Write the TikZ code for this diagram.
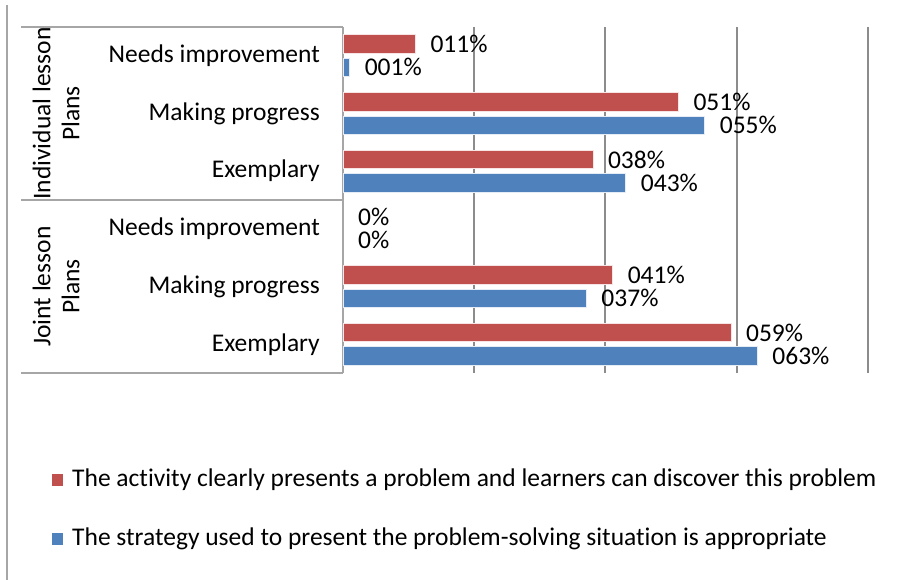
\documentclass[tikz,border=0pt]{standalone}
\usepackage{fontspec}
\setmainfont{Carlito}[Ligatures=NoCommon]
\definecolor{barred}{HTML}{C0504D}
\definecolor{barblue}{HTML}{4F81BD}
\definecolor{gridgray}{HTML}{8C8C8C}
\definecolor{tabgray}{HTML}{A6A6A6}
\begin{document}
\begin{tikzpicture}[x=1pt,y=-1pt,
  txt/.style={font=\fontsize{25.5}{29}\selectfont, inner sep=0pt, text=black},
  redbar/.style={fill=barred, draw=white!85!barred, line width=0.6pt},
  bluebar/.style={fill=barblue, draw=white!85!barblue, line width=0.6pt},
  grid/.style={draw=gridgray, line width=1.2pt},
  tab/.style={draw=tabgray, line width=1.2pt}]
\useasboundingbox (0,0) rectangle (912,580);
% outer left frame line
\draw[tab] (7,5) -- (7,580);
% gridlines
\foreach \g in {474,605,737,868} \draw[grid] (\g,27) -- (\g,373);
% table lines
\draw[tab] (21,27) -- (343,27);
\draw[tab] (21,200) -- (343,200);
\draw[tab] (21,373) -- (343,373);
\draw[tab] (343,27) -- (343,373);
% bars: category centres
\def\sc{6.575}
\foreach \c/\r/\b/\rl/\bl [count=\i] in {
  55.8/11/1/011\%/001\%,
  113.5/51/55/051\%/055\%,
  171.2/38/43/038\%/043\%,
  228.9/0/0/0\%/0\%,
  286.6/41/37/041\%/037\%,
  344.2/59/63/059\%/063\%}{
  \ifnum\r>0
    \filldraw[redbar] (343,\c-21) rectangle ({343+\sc*\r},\c-2.5);
  \fi
  \ifnum\b>0
    \filldraw[bluebar] (343,\c+2.5) rectangle ({343+\sc*\b},\c+21);
  \fi
  \node[txt, anchor=west] (rl\i) at ({343+\sc*\r+15},\c-11.5) {\rl};
  \node[txt, anchor=west] (bl\i) at ({343+\sc*\b+15},\c+11.5) {\bl};
}
% category labels
\node[txt, anchor=east] (c1) at (320,55.8) {Needs improvement};
\node[txt, anchor=east] (c2) at (320,113.5) {Making progress};
\node[txt, anchor=east] (c3) at (320,171.2) {Exemplary};
\node[txt, anchor=east] (c4) at (320,228.9) {Needs improvement};
\node[txt, anchor=east] (c5) at (320,286.6) {Making progress};
\node[txt, anchor=east] (c6) at (320,344.2) {Exemplary};
% group labels
\node[txt, rotate=90, align=center] (g1) at (56,113.5) {Individual lesson\\Plans};
\node[txt, rotate=90, align=center] (g2) at (56,286.6) {Joint lesson\\Plans};
% legend
\fill[barred] (52,474) rectangle (63,486);
\node[txt, anchor=west] (leg1) at (72,480) {The activity clearly presents a problem and learners can discover this problem};
\fill[barblue] (52,533) rectangle (63,545);
\node[txt, anchor=west] (leg2) at (72,539) {The strategy used to present the problem-solving situation is appropriate};
\end{tikzpicture}
\end{document}
